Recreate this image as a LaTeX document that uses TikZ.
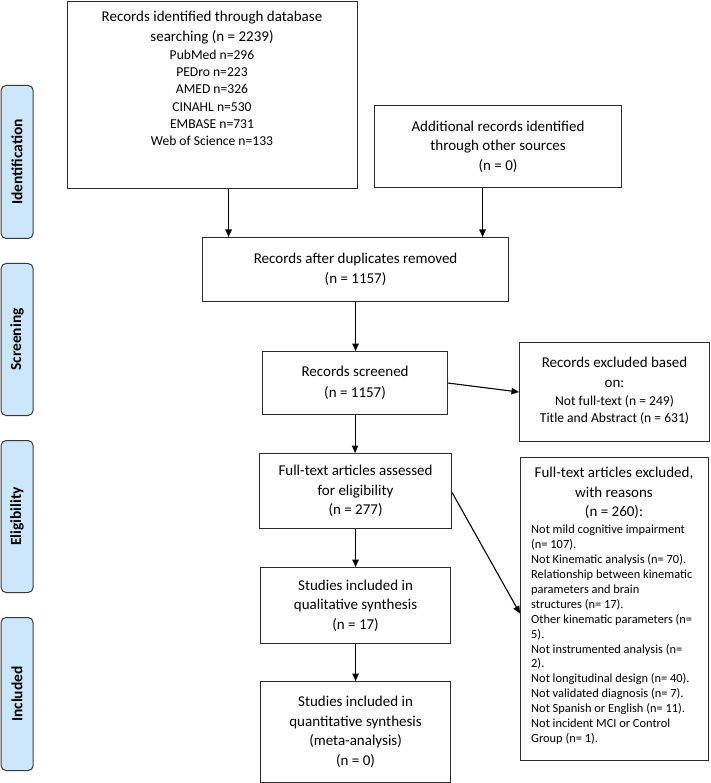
\documentclass[tikz,border=0pt]{standalone}
\usepackage{fontspec}
\setmainfont{Carlito}
\usetikzlibrary{arrows.meta}
\definecolor{sidefill}{HTML}{CCE7FB}
\definecolor{sidedraw}{HTML}{3A3A3A}
\definecolor{boxdraw}{HTML}{2A2A2A}
\newcommand{\bigf}{\fontsize{15}{19.5}\selectfont}
\newcommand{\smf}{\fontsize{13.6}{17.3}\selectfont}
\newcommand{\lstf}{\fontsize{12.4}{14.9}\selectfont}
\begin{document}
\begin{tikzpicture}[x=1pt,y=-1pt,
  box/.style={draw=boxdraw,line width=1.1pt,rectangle,inner sep=0pt},
  side/.style={draw=sidedraw,fill=sidefill,line width=1pt,rounded corners=5pt,inner sep=0pt,minimum width=32pt},
  sidetext/.style={rotate=90,font=\bfseries\fontsize{15.5}{17}\selectfont},
  arr/.style={-{Triangle[length=7.5pt,width=6.5pt]},line width=1.1pt,draw=black},
  txt/.style={align=center,inner sep=0pt,font=\bigf}]
\useasboundingbox (0,0) rectangle (710,783);
% side labels
\node[side,minimum height=153pt,anchor=north west] (s1) at (0.6,85) {};
\node[sidetext] (t1) at (s1.center) {Identification};
\node[side,minimum height=152pt,anchor=north west] (s2) at (0.6,263) {};
\node[sidetext] (t2) at (s2.center) {Screening};
\node[side,minimum height=152pt,anchor=north west] (s3) at (0.6,440) {};
\node[sidetext] (t3) at (s3.center) {Eligibility};
\node[side,minimum height=153pt,anchor=north west] (s4) at (0.6,617) {};
\node[sidetext] (t4) at (s4.center) {Included};
% boxes
\node[box,minimum width=290pt,minimum height=187pt,anchor=north west] (A) at (67,1) {};
\node[txt,anchor=north,font=\smf] (At) at (212,10.5) {\bigf Records identified through database\\[2.7pt] \bigf searching (n = 2239)\\[0.7pt]
 PubMed n=296\\ PEDro n=223\\ AMED n=326\\ CINAHL n=530\\ EMBASE n=731\\ Web of Science n=133};
\node[box,minimum width=247pt,minimum height=82pt,anchor=north west,txt] (B) at (374,105) {Additional records identified\\ through other sources\\ (n = 0)};
\node[box,minimum width=306pt,minimum height=64pt,anchor=north west,txt] (C) at (202,237) {Records after duplicates removed\\[1pt] (n = 1157)};
\node[box,minimum width=185pt,minimum height=63pt,anchor=north west,txt] (D) at (262,351) {Records screened\\[1pt] (n = 1157)};
\node[box,minimum width=190pt,minimum height=99pt,anchor=north west] (E) at (519,342) {};
\node[txt,font=\smf] (Et) at ([yshift=1pt]E.center) {\bigf Records excluded based\\[2.7pt] \bigf on:\\[0.7pt] Not full-text (n = 249)\\ Title and Abstract (n = 631)};
\node[box,minimum width=192pt,minimum height=75pt,anchor=north west,txt] (F) at (259,453) {Full-text articles assessed\\ for eligibility\\ (n = 277)};
\node[box,minimum width=190pt,minimum height=76pt,anchor=north west,txt] (G) at (260,567) {Studies included in\\ qualitative synthesis\\ (n = 17)};
\node[box,minimum width=190pt,minimum height=101pt,anchor=north west,txt] (H) at (260,681) {Studies included in\\ quantitative synthesis\\ (meta-analysis)\\ (n = 0)};
\node[box,minimum width=188pt,minimum height=303pt,anchor=north west] (I) at (520,457) {};
\node[txt,anchor=north] (It) at (614,467) {Full-text articles excluded,\\ with reasons\\ (n = 260):};
\node[txt,anchor=north west,align=left,font=\lstf] (Il) at (531,525) {Not mild cognitive impairment\\ (n= 107).\\ Not Kinematic analysis (n= 70).\\ Relationship between kinematic\\ parameters and brain\\ structures (n= 17).\\ Other kinematic parameters (n=\\ 5).\\ Not instrumented analysis (n=\\ 2).\\ Not longitudinal design (n= 40).\\ Not validated diagnosis (n= 7).\\ Not Spanish or English (n= 11).\\ Not incident MCI or Control\\ Group (n= 1).};
% connectors
\draw[arr] ([xshift=16pt]A.south) -- ([xshift=16pt]A.south |- C.north);
\draw[arr] ([xshift=-15.5pt]B.south) -- ([xshift=-15.5pt]B.south |- C.north);
\draw[arr] (C.south) -- (C.south |- D.north);
\draw[arr] (D.east) -- (E.west);
\draw[arr] (D.south) -- (D.south |- F.north);
\draw[arr] ([yshift=-1.5pt]F.east) -- ([yshift=-4.5pt]I.west);
\draw[arr] (F.south) -- (F.south |- G.north);
\draw[arr] (G.south) -- (G.south |- H.north);
\end{tikzpicture}
\end{document}
